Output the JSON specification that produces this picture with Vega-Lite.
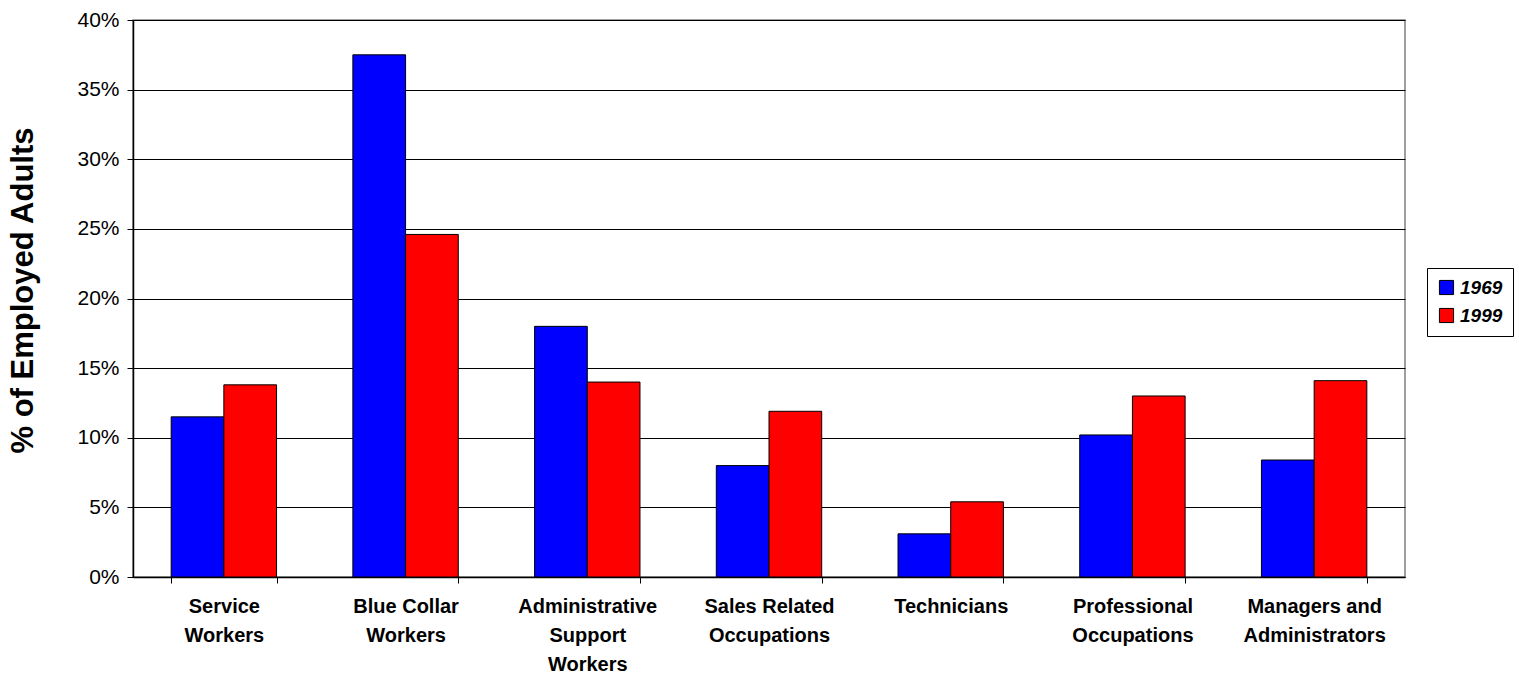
{
  "$schema": "https://vega.github.io/schema/vega-lite/v6.json",
  "width": 1272,
  "height": 557,
  "autosize": {"type": "none"},
  "padding": {"left": 133, "top": 20, "right": 114, "bottom": 102},
  "background": "white",
  "config": {
    "font": "Liberation Sans",
    "view": {"stroke": "#808080", "strokeWidth": 1.5}
  },
  "data": {
    "values": [
      {"category": "Service Workers", "year": "1969", "share": 0.115},
      {"category": "Service Workers", "year": "1999", "share": 0.138},
      {"category": "Blue Collar Workers", "year": "1969", "share": 0.375},
      {"category": "Blue Collar Workers", "year": "1999", "share": 0.246},
      {"category": "Administrative Support Workers", "year": "1969", "share": 0.180},
      {"category": "Administrative Support Workers", "year": "1999", "share": 0.140},
      {"category": "Sales Related Occupations", "year": "1969", "share": 0.080},
      {"category": "Sales Related Occupations", "year": "1999", "share": 0.119},
      {"category": "Technicians", "year": "1969", "share": 0.031},
      {"category": "Technicians", "year": "1999", "share": 0.054},
      {"category": "Professional Occupations", "year": "1969", "share": 0.102},
      {"category": "Professional Occupations", "year": "1999", "share": 0.130},
      {"category": "Managers and Administrators", "year": "1969", "share": 0.084},
      {"category": "Managers and Administrators", "year": "1999", "share": 0.141}
    ]
  },
  "mark": {"type": "bar", "stroke": "black", "strokeWidth": 1},
  "encoding": {
    "x": {
      "field": "category",
      "type": "nominal",
      "sort": null,
      "scale": {"paddingInner": 0.42, "paddingOuter": 0.21},
      "axis": {
        "title": null,
        "labelAngle": 0,
        "labelFontSize": 20,
        "labelFontWeight": "bold",
        "labelColor": "black",
        "labelLineHeight": 29,
        "labelPadding": 13,
        "labelLimit": 300,
        "tickBand": "extent",
        "tickSize": 6,
        "tickColor": "black",
        "domainColor": "black",
        "domainWidth": 1.5,
        "labelExpr": "datum.value == 'Service Workers' ? ['Service', 'Workers'] : datum.value == 'Blue Collar Workers' ? ['Blue Collar', 'Workers'] : datum.value == 'Administrative Support Workers' ? ['Administrative', 'Support', 'Workers'] : datum.value == 'Sales Related Occupations' ? ['Sales Related', 'Occupations'] : datum.value == 'Professional Occupations' ? ['Professional', 'Occupations'] : datum.value == 'Managers and Administrators' ? ['Managers and', 'Administrators'] : datum.value"
      }
    },
    "xOffset": {"field": "year", "type": "nominal", "scale": {"paddingInner": 0, "paddingOuter": 0}},
    "y": {
      "field": "share",
      "type": "quantitative",
      "scale": {"domain": [0, 0.4], "nice": false},
      "axis": {
        "title": "% of Employed Adults",
        "titleFontSize": 31,
        "titleFontWeight": "bold",
        "titleColor": "black",
        "titleAngle": -90,
        "titleX": -110,
        "titleY": 270,
        "titleAlign": "center",
        "titleBaseline": "middle",
        "values": [0, 0.05, 0.1, 0.15, 0.2, 0.25, 0.3, 0.35, 0.4],
        "format": ".0%",
        "labelFontSize": 21,
        "labelColor": "black",
        "labelPadding": 8,
        "tickSize": 6,
        "tickColor": "black",
        "domainColor": "black",
        "domainWidth": 1.5,
        "grid": true,
        "gridColor": "black",
        "gridWidth": 1
      }
    },
    "color": {
      "field": "year",
      "type": "nominal",
      "scale": {"domain": ["1969", "1999"], "range": ["#0000FF", "#FF0000"]},
      "legend": {
        "title": null,
        "orient": "none",
        "legendX": 1294,
        "legendY": 248,
        "symbolType": "square",
        "symbolSize": 200,
        "symbolStrokeColor": "black",
        "symbolStrokeWidth": 1,
        "symbolOpacity": 1,
        "labelFontSize": 19,
        "labelFontWeight": "bold",
        "labelFontStyle": "italic",
        "labelColor": "black",
        "rowPadding": 8,
        "padding": 10,
        "strokeColor": "black",
        "fillColor": "white"
      }
    }
  }
}
